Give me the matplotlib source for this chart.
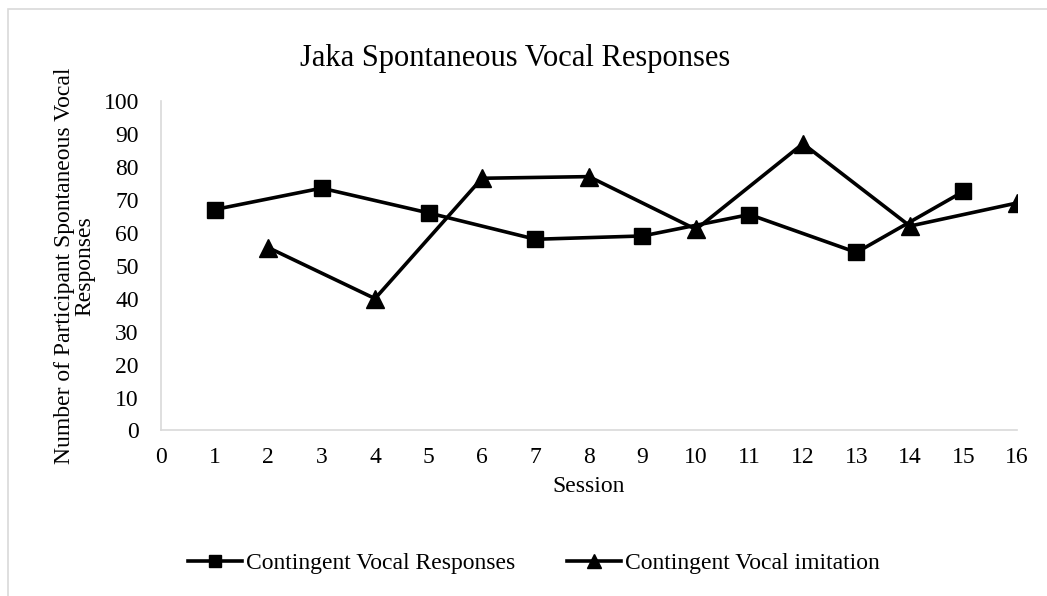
import matplotlib
matplotlib.use('Agg')
import matplotlib.pyplot as plt
from matplotlib.patches import Rectangle

# session numbers and counts for each condition
resp_sessions = [1, 3, 5, 7, 9, 11, 13, 15]
resp_values = [67, 73.5, 66, 58, 59, 65.5, 54, 72.5]
imit_sessions = [2, 4, 6, 8, 10, 12, 14, 16]
imit_values = [55.5, 40, 76.5, 77, 61, 87, 62, 69]

xticks = list(range(0, 17))
yticks = list(range(0, 101, 10))

plt.rcParams['font.family'] = ['Liberation Serif', 'DejaVu Serif']
FS = 17

fig = plt.figure(figsize=(10.47, 5.96), dpi=100)
ax = fig.add_axes([0.1538, 0.2777, 0.8175, 0.5532])

# chart area border
fig.patches.append(Rectangle((8 / 1047, -0.1), 1.2, 1 - 9 / 596 + 0.1,
                             transform=fig.transFigure, fill=False,
                             edgecolor='#d9d9d9', linewidth=1.2))

ax.plot(resp_sessions, resp_values, color='black', linewidth=2.6,
        marker='s', markersize=12, label='Contingent Vocal Responses')
ax.plot(imit_sessions, imit_values, color='black', linewidth=2.6,
        marker='^', markersize=13, label='Contingent Vocal imitation')

ax.set_xlim(0, 16)
ax.set_ylim(0, 100)
ax.set_xticks(xticks)
ax.set_yticks(yticks)
ax.tick_params(length=0, labelsize=FS)
ax.tick_params(axis='x', pad=12)
ax.tick_params(axis='y', pad=16)
for side in ['top', 'right']:
    ax.spines[side].set_visible(False)
for side in ['left', 'bottom']:
    ax.spines[side].set_color('#d9d9d9')
    ax.spines[side].set_linewidth(1.2)
for lab in ax.get_xticklabels() + ax.get_yticklabels():
    lab.set_clip_on(False)

ax.set_xlabel('Session', fontsize=FS, labelpad=6)
ax.set_ylabel('Number of Participant Spontaneous Vocal\nResponses',
              fontsize=FS, labelpad=6, linespacing=0.95)
fig.text(0.492, 0.902, 'Jaka Spontaneous Vocal Responses', ha='center',
         va='center', fontsize=22)

fig.legend(loc='center', bbox_to_anchor=(0.51, 0.055), ncol=2, frameon=False,
           fontsize=FS, handlelength=2.3, columnspacing=2.2, handletextpad=0.15,
           markerscale=0.75)

fig.savefig('out.png', dpi=100)
